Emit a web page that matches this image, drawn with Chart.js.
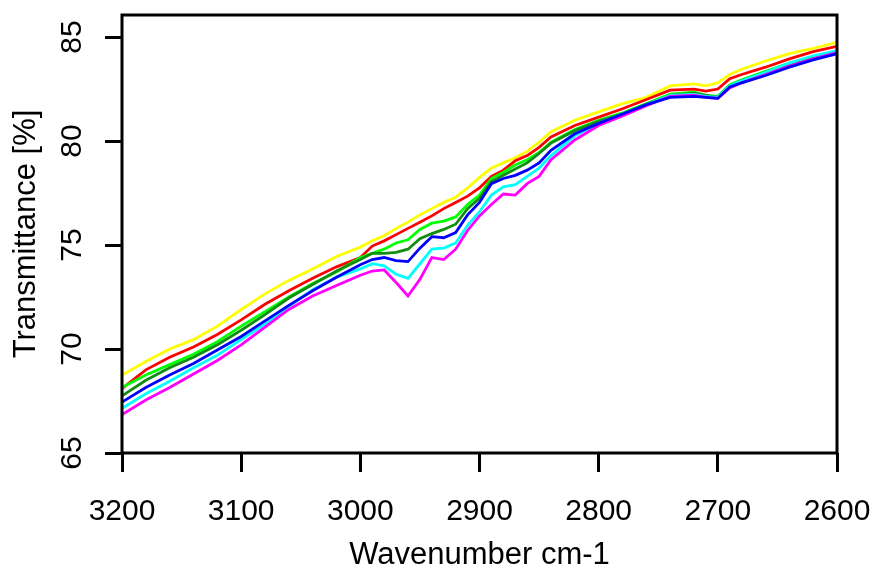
<!DOCTYPE html>
<html>
<head>
<meta charset="utf-8">
<title>Transmittance spectra</title>
<script src="https://cdn.jsdelivr.net/npm/chart.js@4.4.1/dist/chart.umd.min.js"></script>
<style>
  html, body { margin: 0; padding: 0; background: #fff; }
  #wrap { width: 874px; height: 573px; }
</style>
</head>
<body>
<div id="wrap"><canvas id="irChart" width="874" height="573"></canvas></div>
<script>
    // wavenumbers (cm-1), shared by every spectrum
    const wavenumbers = [3200, 3180, 3160, 3140, 3120, 3100, 3080, 3060, 3040, 3020, 3000, 2990, 2980, 2970, 2960, 2950, 2940, 2930, 2920, 2910,
        2900, 2890, 2880, 2870, 2860, 2850, 2840, 2820, 2800, 2780, 2760, 2740, 2720, 2710, 2700, 2690, 2680, 2660, 2640, 2620, 2600];

    const yellowValues = [68.75, 69.4, 70.0, 70.45, 71.1, 71.9, 72.65, 73.3, 73.85, 74.45, 74.9, 75.2, 75.45, 75.8, 76.1, 76.45, 76.75, 77.05, 77.3, 77.75,
        78.25, 78.7, 78.95, 79.2, 79.5, 79.95, 80.45, 81.0, 81.4, 81.8, 82.1, 82.65, 82.75, 82.65, 82.8, 83.2, 83.45, 83.85, 84.2, 84.45, 84.75];
    const redValues = [68.1, 69.0, 69.6, 70.1, 70.7, 71.4, 72.15, 72.8, 73.4, 73.95, 74.4, 74.95, 75.2, 75.5, 75.8, 76.1, 76.4, 76.75, 77.05, 77.35,
        77.75, 78.3, 78.6, 79.05, 79.3, 79.7, 80.2, 80.75, 81.15, 81.55, 82.0, 82.45, 82.5, 82.4, 82.5, 83.0, 83.2, 83.55, 83.95, 84.3, 84.55];
    const limeValues = [68.15, 68.75, 69.25, 69.75, 70.35, 71.1, 71.8, 72.5, 73.15, 73.7, 74.4, 74.6, 74.8, 75.1, 75.25, 75.75, 76.05, 76.15, 76.35, 76.95,
        77.4, 78.2, 78.5, 78.85, 79.1, 79.45, 79.95, 80.55, 81.0, 81.35, 81.8, 82.25, 82.35, 82.2, 82.15, 82.7, 82.95, 83.35, 83.75, 84.05, 84.3];
    const greenValues = [67.75, 68.5, 69.1, 69.6, 70.2, 70.9, 71.65, 72.45, 73.1, 73.75, 74.3, 74.6, 74.6, 74.65, 74.8, 75.3, 75.55, 75.75, 76.0, 76.75,
        77.25, 78.05, 78.35, 78.65, 78.95, 79.4, 79.9, 80.5, 80.95, 81.3, 81.75, 82.2, 82.3, 82.2, 82.1, 82.65, 82.9, 83.3, 83.7, 84.0, 84.25];
    const blueValues = [67.45, 68.15, 68.75, 69.3, 69.95, 70.6, 71.35, 72.1, 72.8, 73.45, 74.05, 74.3, 74.4, 74.25, 74.2, 74.85, 75.4, 75.35, 75.6, 76.45,
        77.05, 77.95, 78.2, 78.35, 78.6, 78.95, 79.55, 80.35, 80.85, 81.3, 81.75, 82.1, 82.15, 82.1, 82.05, 82.6, 82.8, 83.15, 83.55, 83.9, 84.2];
    const cyanValues = [67.15, 67.85, 68.45, 69.1, 69.7, 70.45, 71.2, 72.05, 72.85, 73.45, 73.85, 74.1, 74.0, 73.6, 73.4, 74.1, 74.8, 74.85, 75.1, 75.95,
        76.6, 77.4, 77.8, 77.9, 78.3, 78.7, 79.3, 80.25, 80.85, 81.3, 81.75, 82.2, 82.25, 82.15, 82.1, 82.65, 82.9, 83.3, 83.75, 84.1, 84.35];
    const magentaValues = [66.85, 67.55, 68.15, 68.8, 69.45, 70.2, 71.05, 71.9, 72.55, 73.05, 73.55, 73.75, 73.8, 73.2, 72.55, 73.35, 74.4, 74.3, 74.8, 75.7,
        76.4, 76.95, 77.45, 77.4, 77.95, 78.3, 79.1, 80.05, 80.75, 81.2, 81.7, 82.15, 82.2, 82.1, 82.05, 82.55, 82.8, 83.2, 83.6, 83.95, 84.25];

    const xTickValues = [3200, 3100, 3000, 2900, 2800, 2700, 2600];
    const yTickValues = [65, 70, 75, 80, 85];

    const fontFamily = '"Liberation Sans", Arial, sans-serif';

    function toPoints(values) {
        return values.map((v, i) => ({ x: wavenumbers[i], y: v }));
    }

    function makeDataset(values, color, order) {
        return {
            data: toPoints(values),
            borderColor: color,
            backgroundColor: color,
            borderWidth: 2.8,
            pointRadius: 0,
            tension: 0,
            fill: false,
            order: order
        };
    }

    // frame round the plot area and the rotated y tick labels
    const framePlugin = {
        id: 'frame',
        afterDraw(chart) {
            const c = chart.ctx;
            const a = chart.chartArea;
            c.save();
            c.strokeStyle = '#000';
            c.lineWidth = 3;
            c.strokeRect(a.left, a.top, a.right - a.left, a.bottom - a.top);

            const yScale = chart.scales.y;
            c.fillStyle = '#000';
            c.font = '30px ' + fontFamily;
            c.textAlign = 'center';
            c.textBaseline = 'middle';
            yTickValues.forEach(v => {
                const py = yScale.getPixelForValue(v);
                c.save();
                c.translate(73, py);
                c.rotate(-Math.PI / 2);
                c.fillText(String(v), 0, 0);
                c.restore();
            });
            c.restore();
        }
    };

    const ctx = document.getElementById('irChart').getContext('2d');

    const irChart = new Chart(ctx, {
        type: 'line',
        data: {
            datasets: [
                makeDataset(yellowValues, '#ffff00', 7),
                makeDataset(redValues, '#ff0000', 6),
                makeDataset(limeValues, '#00ff00', 5),
                makeDataset(greenValues, '#118c11', 4),
                makeDataset(cyanValues, '#00ffff', 3),
                makeDataset(magentaValues, '#ff00ff', 2),
                makeDataset(blueValues, '#0000ff', 1)
            ]
        },
        options: {
            responsive: false,
            animation: false,
            devicePixelRatio: 1,
            layout: {
                padding: { top: 15, right: 37, bottom: 0, left: 0 }
            },
            plugins: {
                legend: { display: false },
                tooltip: { enabled: false }
            },
            scales: {
                x: {
                    type: 'linear',
                    reverse: true,
                    min: 2600,
                    max: 3200,
                    afterBuildTicks: scale => {
                        scale.ticks = xTickValues.map(v => ({ value: v }));
                    },
                    afterFit: scale => {
                        scale.height = 120;
                        scale.paddingLeft = 0;
                        scale.paddingRight = 0;
                    },
                    ticks: {
                        autoSkip: false,
                        maxRotation: 0,
                        minRotation: 0,
                        padding: 22,
                        color: '#000',
                        font: { family: fontFamily, size: 30 },
                        callback: value => String(value)
                    },
                    grid: {
                        drawOnChartArea: false,
                        drawTicks: true,
                        tickLength: 19,
                        tickWidth: 3,
                        tickColor: '#000'
                    },
                    border: { display: false },
                    title: {
                        display: true,
                        text: 'Wavenumber cm-1',
                        color: '#000',
                        font: { family: fontFamily, size: 31, lineHeight: 1 },
                        padding: { top: 0, bottom: 2 }
                    }
                },
                y: {
                    type: 'linear',
                    min: 65,
                    max: 86.06,
                    afterBuildTicks: scale => {
                        scale.ticks = yTickValues.map(v => ({ value: v }));
                    },
                    afterFit: scale => {
                        scale.width = 122;
                    },
                    ticks: {
                        display: false
                    },
                    grid: {
                        drawOnChartArea: false,
                        drawTicks: true,
                        tickLength: 17,
                        tickWidth: 3,
                        tickColor: '#000'
                    },
                    border: { display: false },
                    title: {
                        display: true,
                        text: 'Transmittance [%]',
                        color: '#000',
                        font: { family: fontFamily, size: 31, lineHeight: 1 },
                        padding: { top: 11, bottom: 0 }
                    }
                }
            }
        },
        plugins: [framePlugin]
    });
</script>
</body>
</html>
